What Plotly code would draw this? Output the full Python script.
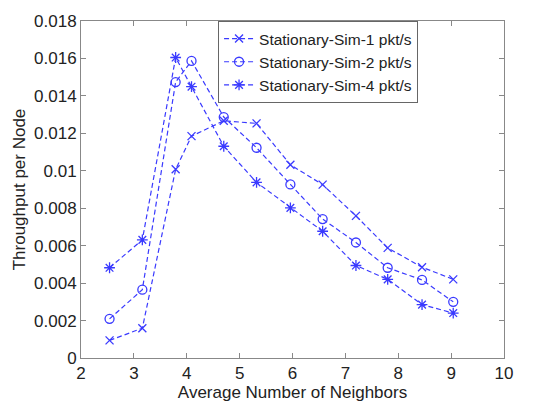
import plotly.graph_objects as go

x_vals = [2.54, 3.16, 3.79, 4.09, 4.70, 5.32, 5.96, 6.57, 7.20, 7.80, 8.45, 9.04]
sim1 = [0.00094, 0.00159, 0.01008, 0.01185, 0.01267, 0.01253, 0.01032, 0.00926, 0.00759, 0.00588, 0.00485, 0.00420]
sim2 = [0.00209, 0.00365, 0.01474, 0.01587, 0.01287, 0.01123, 0.00927, 0.00742, 0.00617, 0.00482, 0.00417, 0.00300]
sim4 = [0.00482, 0.00631, 0.01605, 0.01449, 0.01131, 0.00938, 0.00802, 0.00677, 0.00494, 0.00420, 0.00285, 0.00240]
names = ["Stationary-Sim-1 pkt/s", "Stationary-Sim-2 pkt/s", "Stationary-Sim-4 pkt/s"]
x_ticks = [2, 3, 4, 5, 6, 7, 8, 9, 10]
y_ticks = [0, 0.002, 0.004, 0.006, 0.008, 0.01, 0.012, 0.014, 0.016, 0.018]
y_ticktext = ["0", "0.002", "0.004", "0.006", "0.008", "0.01", "0.012", "0.014", "0.016", "0.018"]

blue = "#3a3aff"
fig = go.Figure()
for ys, name, sym, sz in [(sim1, names[0], "x-thin-open", 8),
                          (sim2, names[1], "circle-open", 9),
                          (sim4, names[2], "asterisk-open", 9)]:
    fig.add_trace(go.Scatter(
        x=x_vals, y=ys, name=name, mode="lines+markers",
        line=dict(color=blue, width=1.2, dash="5px,3px"),
        marker=dict(symbol=sym, size=sz, color=blue, line=dict(color=blue, width=1.3)),
    ))

font = dict(family="Arial, Liberation Sans, sans-serif", size=17, color="#222222")
axis_common = dict(
    showgrid=False, zeroline=False, showline=True, linecolor="#888888", linewidth=1,
    mirror="ticks", ticks="inside", ticklen=5, tickcolor="#888888",
    tickfont=font,
)
fig.update_layout(
    width=548, height=407,
    margin=dict(l=81, r=44, t=13, b=45),
    paper_bgcolor="white", plot_bgcolor="white",
    font=font,
    xaxis=dict(range=[2, 10], tickvals=x_ticks,
               title=dict(text="Average Number of Neighbors", font=font, standoff=0),
               **axis_common),
    yaxis=dict(range=[0, 0.018], tickvals=y_ticks, ticktext=y_ticktext,
               title=dict(text="Throughput per Node", font=font, standoff=4),
               **axis_common),
    legend=dict(x=0.324, y=1, xanchor="left", yanchor="top",
                bgcolor="white", bordercolor="#666666", borderwidth=1,
                font=dict(family="Arial, Liberation Sans, sans-serif", size=15.5, color="#222222"),
                tracegroupgap=0, itemsizing="trace", itemwidth=30),
    showlegend=True,
)
fig.write_html("out.html")
